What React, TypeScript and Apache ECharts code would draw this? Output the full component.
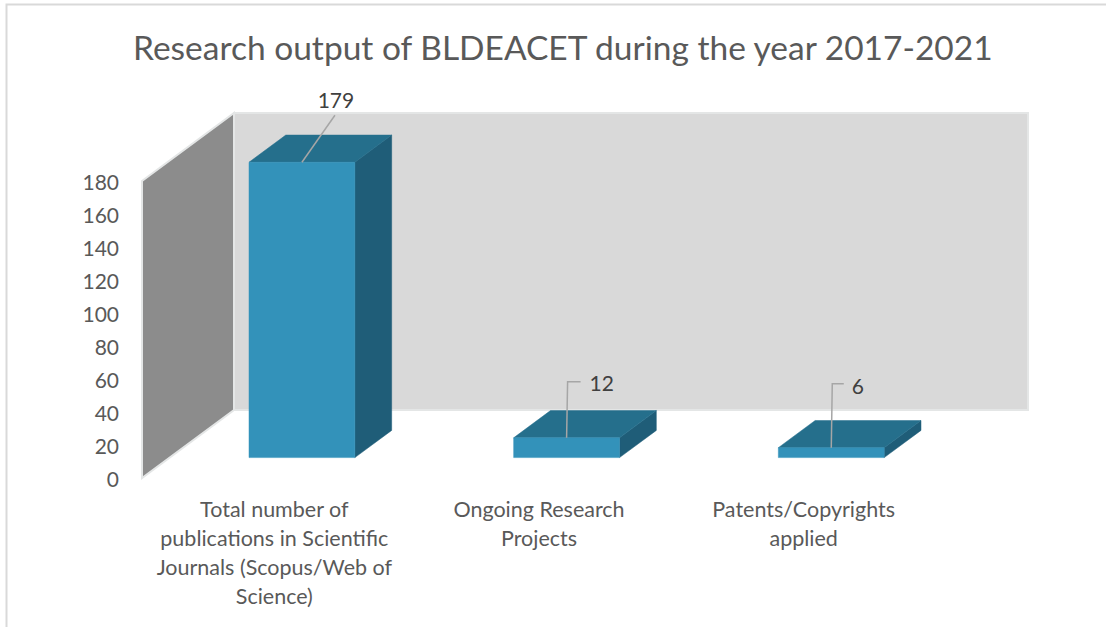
import React, { useEffect, useRef } from "react";
import * as echarts from "echarts";

const TITLE = "Research output of BLDEACET during the year 2017-2021";
const categories = [
  "Total number of\npublications in Scientific\nJournals (Scopus/Web of\nScience)",
  "Ongoing Research\nProjects",
  "Patents/Copyrights\napplied",
];
const values = [179, 12, 6];
const yMin = 0;
const yMax = 180;
const yInterval = 20;

// styling constants (3D look)
const DEPTH_X = 92;
const DEPTH_Y = -68;
const BAR_FRONT = 0.3;
const BAR_BACK = 0.7;
const BAR_WIDTH_RATIO = 0.4;
const FONT = "Lato, 'Open Sans', sans-serif";
const LABEL_LAYOUT = [
  { kind: "diag", lx: 33, ly: -47, tx: 34, ty: -63, align: "center" },
  { kind: "elbow", lx: 14, ly: -56, tx: 23, ty: -55, align: "left" },
  { kind: "elbow", lx: 12.5, ly: -64, tx: 20.5, ty: -62, align: "left" },
];

export default function App() {
  const ref = useRef<HTMLDivElement>(null);
  useEffect(() => {
    if (!ref.current) return;
    const chart = echarts.init(ref.current, undefined, { renderer: "svg" });
    const option: any = {
      animation: false,
      backgroundColor: "#ffffff",
      title: {
        text: TITLE,
        left: 133,
        top: 30,
        padding: 0,
        textStyle: {
          fontFamily: FONT,
          fontSize: 33.5,
          fontWeight: "normal",
          color: "#595959",
        },
      },
      graphic: [
        {
          type: "rect",
          shape: { x: 6.5, y: 4.5, width: 1200, height: 700 },
          style: { fill: "none", stroke: "#d9d9d9", lineWidth: 2 },
          z: 100,
          silent: true,
        },
      ],
      grid: { left: 142, right: 170, top: 181, bottom: 149 },
      xAxis: {
        type: "category",
        data: categories,
        axisLine: { show: false },
        axisTick: { show: false },
        splitLine: { show: false },
        axisLabel: {
          interval: 0,
          fontFamily: FONT,
          fontSize: 21.5,
          lineHeight: 29,
          color: "#595959",
          margin: 16,
          align: "center",
        },
      },
      yAxis: {
        type: "value",
        min: yMin,
        max: yMax,
        interval: yInterval,
        axisLine: { show: false },
        axisTick: { show: false },
        splitLine: { show: false },
        axisLabel: {
          fontFamily: FONT,
          fontSize: 21,
          color: "#595959",
          margin: 23,
        },
      },
      series: [
        {
          type: "custom",
          name: "walls",
          coordinateSystem: "cartesian2d",
          clip: false,
          silent: true,
          z: 1,
          data: [[0, 0]],
          renderItem: (params: any, api: any) => {
            const cs = params.coordSys;
            const x = cs.x;
            const y = cs.y;
            const w = cs.width;
            const h = cs.height;
            return {
              type: "group",
              children: [
                {
                  type: "rect",
                  shape: { x: x + DEPTH_X, y: y + DEPTH_Y, width: w, height: h },
                  style: { fill: "#d9d9d9", stroke: "#e4e6e6", lineWidth: 2 },
                },
                {
                  type: "polygon",
                  shape: {
                    points: [
                      [x, y],
                      [x + DEPTH_X, y + DEPTH_Y],
                      [x + DEPTH_X, y + h + DEPTH_Y],
                      [x, y + h],
                    ],
                  },
                  style: { fill: "#8c8c8c", stroke: "#e4e6e6", lineWidth: 2 },
                },
              ],
            };
          },
        },
        {
          type: "custom",
          name: "Research output",
          coordinateSystem: "cartesian2d",
          clip: false,
          z: 2,
          data: values.map((v, i) => [i, v]),
          renderItem: (params: any, api: any) => {
            const idx = api.value(0);
            const val = api.value(1);
            const base = api.coord([idx, 0]);
            const top = api.coord([idx, val]);
            const band = api.size([1, 0])[0];
            const w = band * BAR_WIDTH_RATIO;
            const x0 = base[0] - w / 2 + DEPTH_X * BAR_FRONT;
            const x1 = x0 + w;
            const yb = base[1] + DEPTH_Y * BAR_FRONT;
            const yt = top[1] + DEPTH_Y * BAR_FRONT;
            const bx = DEPTH_X * (BAR_BACK - BAR_FRONT);
            const by = DEPTH_Y * (BAR_BACK - BAR_FRONT);
            const cx = x0 + w / 2;
            const lay = LABEL_LAYOUT[idx];
            const linePts =
              lay.kind === "diag"
                ? [
                    [cx, yt],
                    [cx + lay.lx, yt + lay.ly],
                  ]
                : [
                    [cx, yt],
                    [cx + 1, yt + lay.ly],
                    [cx + lay.lx, yt + lay.ly],
                  ];
            return {
              type: "group",
              children: [
                {
                  type: "polygon",
                  shape: {
                    points: [
                      [x1, yt],
                      [x1 + bx, yt + by],
                      [x1 + bx, yb + by],
                      [x1, yb],
                    ],
                  },
                  style: { fill: "#1f5d78", stroke: "#1f5d78", lineWidth: 0.5 },
                },
                {
                  type: "polygon",
                  shape: {
                    points: [
                      [x0, yt],
                      [x1, yt],
                      [x1 + bx, yt + by],
                      [x0 + bx, yt + by],
                    ],
                  },
                  style: { fill: "#256f8c", stroke: "#256f8c", lineWidth: 0.5 },
                },
                {
                  type: "rect",
                  shape: { x: x0, y: yt, width: w, height: yb - yt },
                  style: { fill: "#3392ba", stroke: "#3392ba", lineWidth: 0.5 },
                },
                {
                  type: "polyline",
                  shape: { points: linePts },
                  style: { fill: "none", stroke: "#a6a6a6", lineWidth: 1.5 },
                },
                {
                  type: "text",
                  x: cx + lay.tx,
                  y: yt + lay.ty,
                  style: {
                    text: String(val),
                    fontFamily: FONT,
                    fontSize: 21,
                    fill: "#404040",
                    align: lay.align,
                    verticalAlign: "middle",
                  },
                },
              ],
            };
          },
        },
      ],
    };
    chart.setOption(option);
    return () => chart.dispose();
  }, []);
  return (
    <div
      ref={ref}
      style={{ position: "absolute", left: 0, top: 0, width: 1106, height: 627 }}
    />
  );
}
